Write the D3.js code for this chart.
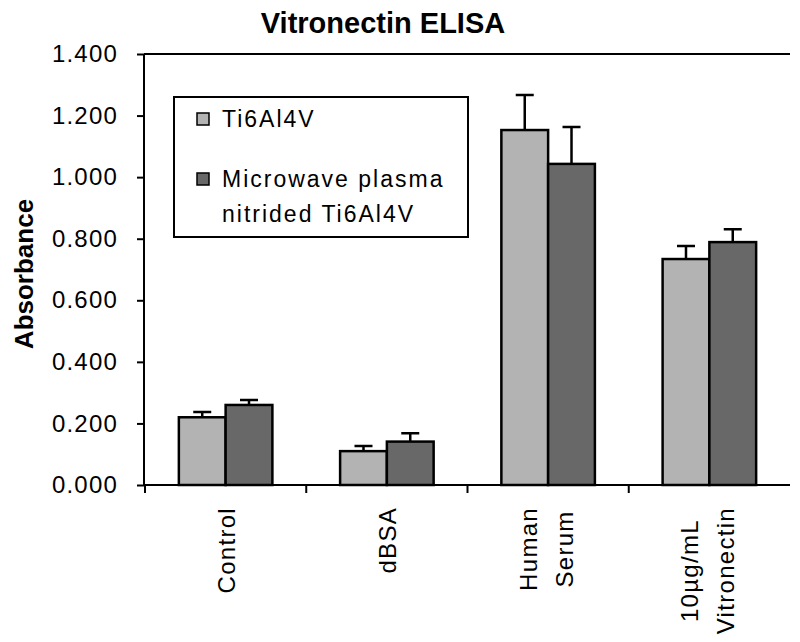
<!DOCTYPE html>
<html>
<head>
<meta charset="utf-8">
<script src="https://cdn.jsdelivr.net/npm/d3@7"></script>
<style>
  html, body { margin: 0; padding: 0; background: #fff; }
  text { font-family: Arial, "Liberation Sans", sans-serif; fill: #000; }
</style>
</head>
<body>
<svg id="chart" width="800" height="642"></svg>
<script>
// ---- data ----
const categories = [["Control"], ["dBSA"], ["Human", "Serum"], ["10µg/mL", "Vitronectin"]];
const seriesNames = [["Ti6Al4V"], ["Microwave plasma", "nitrided Ti6Al4V"]];
const ti6al4v      = [0.220, 0.110, 1.153, 0.734];
const ti6al4vErr   = [0.017, 0.017, 0.114, 0.042];
const nitrided     = [0.260, 0.141, 1.043, 0.789];
const nitridedErr  = [0.016, 0.027, 0.120, 0.042];
const yTicks = [0, 0.2, 0.4, 0.6, 0.8, 1.0, 1.2, 1.4];
const title = "Vitronectin ELISA";
const yTitle = "Absorbance";

// ---- layout ----
const svg = d3.select("#chart");
const X0 = 145, X1 = 790, Y0 = 485, Y1 = 54;
const colors = ["#b3b3b3", "#686868"];

const x = d3.scaleBand().domain(d3.range(categories.length)).range([X0, X1])
  .paddingInner(0.42).paddingOuter(0.21);
const xs = d3.scaleBand().domain([0, 1]).range([0, x.bandwidth()]);
const y = d3.scaleLinear().domain([0, 1.4]).range([Y0, Y1]);

// title
svg.append("text").attr("x", 383).attr("y", 33).attr("text-anchor", "middle")
  .style("font-size", "29px").style("font-weight", "bold").text(title);

// y title
svg.append("text").attr("transform", "translate(33,274) rotate(-90)")
  .attr("text-anchor", "middle").style("font-size", "26px").style("font-weight", "bold")
  .text(yTitle);

// top frame line
svg.append("line").attr("x1", X0 - 1).attr("x2", X1).attr("y1", y(1.4)).attr("y2", y(1.4))
  .attr("stroke", "#000").attr("stroke-width", 2);

// y axis
const yAxis = svg.append("g").attr("transform", `translate(${X0 - 1},0)`)
  .call(d3.axisLeft(y).tickValues(yTicks).tickFormat(d3.format(".3f")).tickSize(7).tickPadding(19));
yAxis.select(".domain").attr("stroke", "#000").attr("stroke-width", 2).attr("d", `M0,${Y1}V${Y0}`);
yAxis.selectAll(".tick line").attr("stroke", "#000").attr("stroke-width", 2);
yAxis.selectAll(".tick text").style("font-size", "24px").style("letter-spacing", "1.2px")
  .style("font-family", 'Arial, "Liberation Sans", sans-serif');

// bars
const data = categories.map((c, i) => ({ i, vals: [
  { s: 0, v: ti6al4v[i], e: ti6al4vErr[i] },
  { s: 1, v: nitrided[i], e: nitridedErr[i] } ] }));

const groups = svg.append("g").selectAll("g").data(data).join("g")
  .attr("transform", d => `translate(${x(d.i)},0)`);

groups.selectAll("rect").data(d => d.vals).join("rect")
  .attr("x", d => xs(d.s)).attr("width", xs.bandwidth())
  .attr("y", d => y(d.v)).attr("height", d => Y0 - y(d.v))
  .attr("fill", d => colors[d.s]).attr("stroke", "#000").attr("stroke-width", 2.5);

// error bars
groups.selectAll("path.err").data(d => d.vals).join("path").attr("class", "err")
  .attr("d", d => {
    const cx = xs(d.s) + xs.bandwidth() / 2;
    return `M${cx},${y(d.v)}V${y(d.v + d.e)}M${cx - 9},${y(d.v + d.e)}H${cx + 9}`;
  })
  .attr("fill", "none").attr("stroke", "#000").attr("stroke-width", 2.5);

// x axis
svg.append("line").attr("x1", X0 - 1).attr("x2", X1).attr("y1", Y0).attr("y2", Y0)
  .attr("stroke", "#000").attr("stroke-width", 2);
const step = x.step();
svg.append("g").selectAll("line").data(d3.range(categories.length)).join("line")
  .attr("x1", i => x(i) - step * 0.21 / 0.79 * 0 - (step - x.bandwidth()) / 2)
  .attr("x2", i => x(i) - (step - x.bandwidth()) / 2)
  .attr("y1", Y0).attr("y2", Y0 + 8).attr("stroke", "#000").attr("stroke-width", 2);

// x labels (rotated)
const labelTop = 507;
const lg = svg.append("g");
categories.forEach((lines, i) => {
  const cx = x(i) + x.bandwidth() / 2;
  const n = lines.length;
  const texts = lines.map((t, k) => {
    const off = n === 1 ? 0 : (k === 0 ? -20 : 16);
    return lg.append("text").style("font-size", "24px").style("letter-spacing", "1.3px")
      .attr("text-anchor", "middle").attr("data-x", cx + off + 9).text(t);
  });
  const maxLen = d3.max(texts, t => t.node().getComputedTextLength());
  texts.forEach(t => t.attr("transform", `translate(${t.attr("data-x")},${labelTop + maxLen / 2}) rotate(-90)`));
});

// legend
const leg = svg.append("g");
leg.append("rect").attr("x", 174).attr("y", 97).attr("width", 294).attr("height", 140)
  .attr("fill", "#fff").attr("stroke", "#000").attr("stroke-width", 2);
const legY = [113, 173];
seriesNames.forEach((lines, s) => {
  leg.append("rect").attr("x", 197).attr("y", legY[s]).attr("width", 12).attr("height", 12)
    .attr("fill", colors[s]).attr("stroke", "#000").attr("stroke-width", 1.5);
  lines.forEach((t, k) => {
    leg.append("text").attr("x", 222).attr("y", legY[s] + 14 + k * 35)
      .style("font-size", "23px").style("letter-spacing", "2px").text(t);
  });
});
</script>
</body>
</html>
